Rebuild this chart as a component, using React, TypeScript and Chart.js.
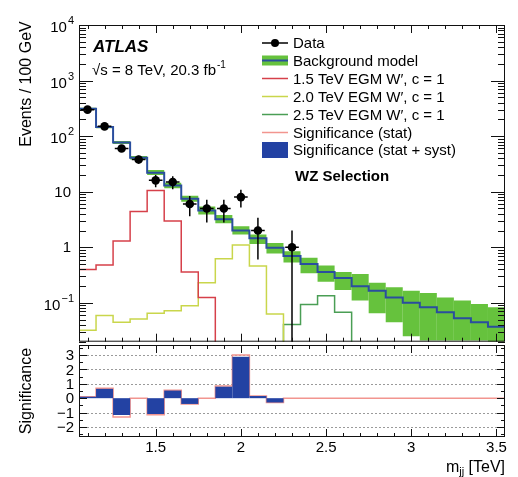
import React, { useEffect, useRef } from 'react';
import { Chart, registerables } from 'chart.js';

Chart.register(...registerables);

// ---------------- data ----------------
const BIN_CENTERS = [1.1, 1.2, 1.3, 1.4, 1.5, 1.6, 1.7, 1.8, 1.9, 2.0, 2.1, 2.2, 2.3, 2.4, 2.5, 2.6, 2.7, 2.8, 2.9, 3.0, 3.1, 3.2, 3.3, 3.4, 3.5];
const BIN_HALF_WIDTH = 0.05;

const BKG = [310, 146, 77, 41, 22, 13, 7.5, 4.6, 3.2, 2.0, 1.45, 0.98, 0.7, 0.5, 0.36, 0.28, 0.2, 0.165, 0.125, 0.1, 0.083, 0.068, 0.053, 0.045, 0.037];
const BKG_LO = [295, 139, 72, 38, 20, 11.5, 6.6, 3.9, 2.7, 1.7, 1.15, 0.77, 0.53, 0.34, 0.24, 0.17, 0.11, 0.065, 0.045, 0.025, 0.021, 0.021, 0.021, 0.021, 0.02];
const BKG_HI = [325, 153, 82, 44, 24.5, 14.5, 8.5, 5.4, 3.8, 2.4, 1.7, 1.2, 0.85, 0.65, 0.47, 0.36, 0.33, 0.23, 0.19, 0.165, 0.15, 0.125, 0.11, 0.095, 0.083];

const SIG_15 = [0.4, 0.48, 1.3, 4.4, 10.5, 2.97, 0.36, 0.125, 0, 0, 0, 0, 0, 0, 0, 0, 0, 0, 0, 0, 0, 0, 0, 0, 0];
const SIG_20 = [0.032, 0.059, 0.045, 0.051, 0.065, 0.072, 0.089, 0.23, 0.62, 1.1, 0.46, 0.063, 0, 0, 0, 0, 0, 0, 0, 0, 0, 0, 0, 0, 0];
const SIG_25 = [0, 0, 0, 0, 0, 0, 0, 0, 0, 0, 0, 0, 0.041, 0.093, 0.134, 0.068, 0, 0, 0, 0, 0, 0, 0, 0, 0];

const DATA_X = [1.1, 1.2, 1.3, 1.4, 1.5, 1.6, 1.7, 1.8, 1.9, 2.0, 2.1, 2.3];
const DATA_Y = [300, 150, 60, 38, 16, 15, 6, 5, 5, 8, 2, 1];
const DATA_ERR = [17.3, 12.2, 7.7, 6.2, 4, 3.9, 2.4, 2.2, 2.2, 2.8, 1.4, 1];
const DATA_XERR = 0.04;

const SIGNIF_STAT = [0.1, 0.7, -1.3, 0, -1.15, 0.55, -0.4, 0, 0.85, 3.0, 0.15, -0.3, 0, 0, 0, 0, 0, 0, 0, 0, 0, 0, 0, 0, 0];
const SIGNIF_SYST = [0.1, 0.65, -1.17, 0, -1.1, 0.53, -0.4, 0, 0.8, 2.88, 0.15, -0.3, 0, 0, 0, 0, 0, 0, 0, 0, 0, 0, 0, 0, 0];

const X_MAJOR_TICKS = [1.5, 2, 2.5, 3, 3.5];
const X_TICK_LABELS = ['1.5', '2', '2.5', '3', '3.5'];
const Y_MAJOR_TICKS = [0.1, 1, 10, 100, 1000, 10000];
const Y_TICK_BASE = ['10', '1', '10', '10', '10', '10'];
const Y_TICK_EXP = ['\u22121', '', '', '2', '3', '4'];
const S_MAJOR_TICKS = [-2, -1, 0, 1, 2, 3];
const S_TICK_LABELS = ['\u22122', '\u22121', '0', '1', '2', '3'];
const S_GRID = [-2, -1, 1, 2, 3];

const LEGEND_LABELS = [
  'Data',
  'Background model',
  '1.5 TeV EGM W\u2032, c = 1',
  '2.0 TeV EGM W\u2032, c = 1',
  '2.5 TeV EGM W\u2032, c = 1',
  'Significance (stat)',
  'Significance (stat + syst)',
];

// ---------------- styles ----------------
const FONT = "'Liberation Sans', Arial, Helvetica, sans-serif";
const C_BAND = '#66c23d';
const C_BKG = '#2a4e9e';
const C_RED = '#d6404a';
const C_YEL = '#c9d64b';
const C_GRN = '#4a9e55';
const C_SIGF = '#2342a3';
const C_STAT = '#f2958f';
const X_MIN = 1.05;
const X_MAX = 3.55;
const TOP_OFFSET = 345;

function histPoints(values: number[], floor: number) {
  // one point at the lower edge of every bin plus the upper edge of the last;
  // with stepped 'before' each point's value holds until the next edge
  const pts: { x: number; y: number }[] = [];
  values.forEach((v, i) => pts.push({ x: BIN_CENTERS[i] - BIN_HALF_WIDTH, y: v !== 0 ? v : floor }));
  const last = values.length - 1;
  pts.push({ x: BIN_CENTERS[last] + BIN_HALF_WIDTH, y: values[last] !== 0 ? values[last] : floor });
  return pts;
}

function drawXTicks(ctx: CanvasRenderingContext2D, xs: any, a: any) {
  ctx.beginPath();
  for (let k = 11; k <= 35; k++) {
    const v = k / 10;
    const major = X_MAJOR_TICKS.some((m) => Math.abs(m - v) < 1e-6);
    const len = major ? 8 : 4;
    const px = Math.round(xs.getPixelForValue(v)) + 0.5;
    ctx.moveTo(px, a.bottom);
    ctx.lineTo(px, a.bottom - len);
    ctx.moveTo(px, a.top);
    ctx.lineTo(px, a.top + len);
  }
  ctx.stroke();
}

function drawYTick(ctx: CanvasRenderingContext2D, py: number, a: any, len: number) {
  const y = Math.round(py) + 0.5;
  ctx.moveTo(a.left, y);
  ctx.lineTo(a.left + len, y);
  ctx.moveTo(a.right, y);
  ctx.lineTo(a.right - len, y);
}

function drawFrame(ctx: CanvasRenderingContext2D, a: any) {
  ctx.strokeRect(a.left + 0.5, a.top + 0.5, a.right - a.left - 1, a.bottom - a.top - 1);
}

const topPlugin = {
  id: 'topDecor',
  afterDatasetsDraw(chart: any) {
    const { ctx, chartArea: a } = chart;
    const xs = chart.scales.x;
    const ys = chart.scales.y;
    ctx.save();
    ctx.beginPath();
    ctx.rect(a.left, a.top, a.right - a.left, a.bottom - a.top);
    ctx.clip();
    ctx.strokeStyle = '#000';
    ctx.lineWidth = 1.5;
    ctx.beginPath();
    DATA_X.forEach((x, i) => {
      const px = xs.getPixelForValue(x);
      const py = ys.getPixelForValue(DATA_Y[i]);
      const yHi = ys.getPixelForValue(DATA_Y[i] + DATA_ERR[i]);
      const lo = DATA_Y[i] - DATA_ERR[i];
      const yLo = lo > 0 ? ys.getPixelForValue(lo) : a.bottom + 2;
      ctx.moveTo(px, yHi);
      ctx.lineTo(px, yLo);
      ctx.moveTo(xs.getPixelForValue(x - DATA_XERR), py);
      ctx.lineTo(xs.getPixelForValue(x + DATA_XERR), py);
    });
    ctx.stroke();
    ctx.restore();
  },
  afterDraw(chart: any) {
    const { ctx, chartArea: a } = chart;
    const xs = chart.scales.x;
    const ys = chart.scales.y;
    ctx.save();
    ctx.strokeStyle = '#111';
    ctx.lineWidth = 1;
    drawFrame(ctx, a);
    drawXTicks(ctx, xs, a);
    ctx.beginPath();
    for (let d = -2; d <= 4; d++) {
      for (let m = 1; m <= 9; m++) {
        const v = m * Math.pow(10, d);
        if (v < ys.min * 0.999 || v > ys.max * 1.001) continue;
        drawYTick(ctx, ys.getPixelForValue(v), a, m === 1 ? 14 : 7);
      }
    }
    ctx.stroke();

    // y tick labels
    ctx.fillStyle = '#000';
    ctx.textBaseline = 'middle';
    ctx.textAlign = 'left';
    const R = 74;
    Y_MAJOR_TICKS.forEach((v, i) => {
      const py = ys.getPixelForValue(v);
      const base = Y_TICK_BASE[i];
      const exp = Y_TICK_EXP[i];
      ctx.font = `15px ${FONT}`;
      const bw = ctx.measureText(base).width;
      ctx.font = `11px ${FONT}`;
      const ew = exp ? ctx.measureText(exp).width + 1 : 0;
      ctx.font = `15px ${FONT}`;
      ctx.fillText(base, R - ew - bw - (exp ? 0 : 3), py + (exp ? 3 : 1));
      if (exp) {
        ctx.font = `11px ${FONT}`;
        ctx.fillText(exp, R - ew + 1, py - 4);
      }
    });

    // y title
    ctx.save();
    ctx.translate(27, 84);
    ctx.rotate(-Math.PI / 2);
    ctx.textAlign = 'center';
    ctx.textBaseline = 'middle';
    ctx.font = `16px ${FONT}`;
    ctx.fillText('Events / 100 GeV', 0, 0);
    ctx.restore();

    // ATLAS label
    ctx.textAlign = 'left';
    ctx.textBaseline = 'alphabetic';
    ctx.font = `italic bold 17px ${FONT}`;
    ctx.fillText('ATLAS', 93, 52);
    ctx.font = `15px ${FONT}`;
    const s1 = '\u221As = 8 TeV, 20.3 fb';
    ctx.fillText(s1, 92, 75);
    const w1 = ctx.measureText(s1).width;
    ctx.font = `10px ${FONT}`;
    ctx.fillText('-1', 92 + w1 + 1, 68);

    // legend
    const LX0 = 262;
    const LX1 = 288;
    const TX = 293;
    const rows = [43, 60.5, 78.5, 96.5, 114.5, 132.5, 150];
    ctx.font = `15px ${FONT}`;
    ctx.textBaseline = 'middle';
    LEGEND_LABELS.forEach((lab, i) => ctx.fillText(lab, TX, rows[i] + 1));
    // data
    ctx.strokeStyle = '#000';
    ctx.lineWidth = 1.5;
    ctx.beginPath();
    ctx.moveTo(LX0, rows[0]);
    ctx.lineTo(LX1, rows[0]);
    ctx.stroke();
    ctx.beginPath();
    ctx.arc((LX0 + LX1) / 2, rows[0], 4, 0, Math.PI * 2);
    ctx.fillStyle = '#000';
    ctx.fill();
    // background
    ctx.fillStyle = C_BAND;
    ctx.fillRect(LX0, rows[1] - 5, LX1 - LX0, 10);
    ctx.strokeStyle = C_BKG;
    ctx.lineWidth = 2;
    ctx.beginPath();
    ctx.moveTo(LX0, rows[1]);
    ctx.lineTo(LX1, rows[1]);
    ctx.stroke();
    const lineEntry = (row: number, color: string, w: number) => {
      ctx.strokeStyle = color;
      ctx.lineWidth = w;
      ctx.beginPath();
      ctx.moveTo(LX0, row);
      ctx.lineTo(LX1, row);
      ctx.stroke();
    };
    lineEntry(rows[2], C_RED, 1.5);
    lineEntry(rows[3], C_YEL, 1.5);
    lineEntry(rows[4], C_GRN, 1.5);
    lineEntry(rows[5], C_STAT, 1.5);
    ctx.fillStyle = C_SIGF;
    ctx.fillRect(LX0, rows[6] - 8, LX1 - LX0, 16);

    ctx.fillStyle = '#000';
    ctx.font = `bold 15px ${FONT}`;
    ctx.textBaseline = 'middle';
    ctx.fillText('WZ Selection', 295, 177);
    ctx.restore();
  },
};

const botPlugin = {
  id: 'botDecor',
  beforeDatasetsDraw(chart: any) {
    const { ctx, chartArea: a } = chart;
    const ys = chart.scales.y;
    ctx.save();
    ctx.strokeStyle = '#9a9a9a';
    ctx.lineWidth = 1;
    ctx.setLineDash([2, 2]);
    ctx.beginPath();
    S_GRID.forEach((v) => {
      const y = Math.round(ys.getPixelForValue(v)) + 0.5;
      ctx.moveTo(a.left, y);
      ctx.lineTo(a.right, y);
    });
    ctx.stroke();
    ctx.restore();
  },
  afterDraw(chart: any) {
    const { ctx, chartArea: a } = chart;
    const xs = chart.scales.x;
    const ys = chart.scales.y;
    ctx.save();
    ctx.strokeStyle = '#111';
    ctx.lineWidth = 1;
    drawFrame(ctx, a);
    drawXTicks(ctx, xs, a);
    ctx.beginPath();
    for (let k = -5; k <= 7; k++) {
      const v = k / 2;
      if (v < ys.min || v > ys.max) continue;
      drawYTick(ctx, ys.getPixelForValue(v), a, k % 2 === 0 ? 8 : 4);
    }
    ctx.stroke();

    ctx.fillStyle = '#000';
    ctx.font = `15px ${FONT}`;
    ctx.textAlign = 'right';
    ctx.textBaseline = 'middle';
    S_MAJOR_TICKS.forEach((v, i) => {
      ctx.fillText(S_TICK_LABELS[i], 74, ys.getPixelForValue(v) + 1);
    });
    ctx.textAlign = 'center';
    X_MAJOR_TICKS.forEach((v, i) => {
      ctx.fillText(X_TICK_LABELS[i], xs.getPixelForValue(v), 448 - TOP_OFFSET);
    });

    // y title
    ctx.save();
    ctx.translate(27, 391 - TOP_OFFSET);
    ctx.rotate(-Math.PI / 2);
    ctx.textAlign = 'center';
    ctx.textBaseline = 'middle';
    ctx.font = `16px ${FONT}`;
    ctx.fillText('Significance', 0, 0);
    ctx.restore();

    // x title m_jj [TeV]
    ctx.textAlign = 'left';
    ctx.textBaseline = 'alphabetic';
    ctx.font = `16px ${FONT}`;
    const wm = ctx.measureText('m').width;
    const wt = ctx.measureText(' [TeV]').width;
    ctx.font = `11px ${FONT}`;
    const wj = ctx.measureText('jj').width;
    const right = 505;
    const x0 = right - wt - wj - wm;
    const base = 472 - TOP_OFFSET;
    ctx.font = `16px ${FONT}`;
    ctx.fillText('m', x0, base);
    ctx.font = `11px ${FONT}`;
    ctx.fillText('jj', x0 + wm, base + 3);
    ctx.font = `16px ${FONT}`;
    ctx.fillText(' [TeV]', x0 + wm + wj, base);
    ctx.restore();
  },
};

function stepLine(label: string, values: number[], color: string, width: number, floor: number) {
  return {
    label,
    data: histPoints(values, floor),
    stepped: 'before',
    borderColor: color,
    borderWidth: width,
    pointRadius: 0,
    fill: false,
  };
}

function topConfig(): any {
  return {
    type: 'line',
    data: {
      datasets: [
        {
          label: 'Data',
          data: DATA_X.map((x, i) => ({ x, y: DATA_Y[i] })),
          showLine: false,
          pointRadius: 4.3,
          pointBackgroundColor: '#000',
          pointBorderColor: '#000',
          pointBorderWidth: 0,
        },
        stepLine('1.5 TeV', SIG_15, C_RED, 1.5, 1e-5),
        stepLine('2.0 TeV', SIG_20, C_YEL, 1.5, 1e-5),
        stepLine('2.5 TeV', SIG_25, C_GRN, 1.5, 1e-5),
        stepLine('Background', BKG, C_BKG, 2, 1e-5),
        {
          type: 'bar',
          label: 'Band',
          data: BIN_CENTERS.map((x, i) => ({ x, y: [BKG_LO[i], BKG_HI[i]] })),
          backgroundColor: C_BAND,
          borderWidth: 0,
          inflateAmount: 0,
          barPercentage: 1,
          categoryPercentage: 1,
        },
      ],
    },
    options: {
      responsive: false,
      animation: false,
      devicePixelRatio: 1,
      events: [],
      layout: { padding: { left: 79, right: 13, top: 25, bottom: 0 } },
      plugins: { legend: { display: false }, tooltip: { enabled: false } },
      scales: {
        x: { type: 'linear', min: X_MIN, max: X_MAX, display: false, offset: false },
        y: { type: 'logarithmic', min: 0.02, max: 10000, display: false },
      },
    },
    plugins: [topPlugin],
  };
}

function botConfig(): any {
  return {
    type: 'line',
    data: {
      datasets: [
        {
          type: 'bar',
          label: 'Significance (stat + syst)',
          data: BIN_CENTERS.map((x, i) => ({ x, y: SIGNIF_SYST[i] })),
          backgroundColor: C_SIGF,
          borderWidth: 0,
          inflateAmount: 0,
          barPercentage: 1,
          categoryPercentage: 1,
        },
        stepLine('Significance (stat)', SIGNIF_STAT, C_STAT, 1.5, 0),
      ],
    },
    options: {
      responsive: false,
      animation: false,
      devicePixelRatio: 1,
      events: [],
      layout: { padding: { left: 79, right: 13, top: 0, bottom: 40 } },
      plugins: { legend: { display: false }, tooltip: { enabled: false } },
      scales: {
        x: { type: 'linear', min: X_MIN, max: X_MAX, display: false, offset: false },
        y: { type: 'linear', min: -2.7, max: 3.7, display: false },
      },
    },
    plugins: [botPlugin],
  };
}

export default function App() {
  const topRef = useRef<HTMLCanvasElement>(null);
  const botRef = useRef<HTMLCanvasElement>(null);
  useEffect(() => {
    const top = new Chart(topRef.current as HTMLCanvasElement, topConfig());
    const bot = new Chart(botRef.current as HTMLCanvasElement, botConfig());
    return () => {
      top.destroy();
      bot.destroy();
    };
  }, []);
  return (
    <div style={{ position: 'fixed', left: 0, top: 0, width: 518, height: 477, background: '#fff', overflow: 'hidden' }}>
      <canvas ref={topRef} width={518} height={346} style={{ position: 'absolute', left: 0, top: 0, width: 518, height: 346, display: 'block' }} />
      <canvas ref={botRef} width={518} height={132} style={{ position: 'absolute', left: 0, top: TOP_OFFSET, width: 518, height: 132, display: 'block' }} />
    </div>
  );
}
